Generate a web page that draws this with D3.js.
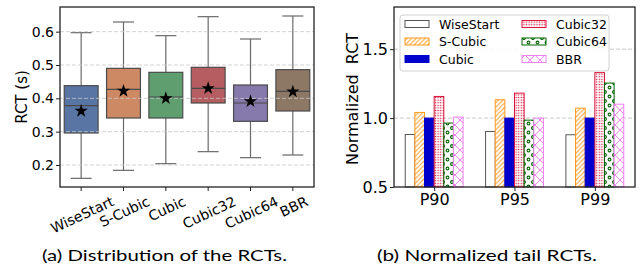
<!DOCTYPE html>
<html>
<head>
<meta charset="utf-8">
<script src="https://cdn.jsdelivr.net/npm/d3@7"></script>
<style>
  body { margin: 0; background: #fff; }
  svg text { font-family: "DejaVu Sans", sans-serif; fill: #000; }
  svg text.cap { font-family: "Lato", "Open Sans", sans-serif; }
</style>
</head>
<body>
<div id="chart"></div>
<script>
// ---- data ----
var methods = ["WiseStart", "S-Cubic", "Cubic", "Cubic32", "Cubic64", "BBR"];
// box plot stats of the RCT (s)
var whiskLo = [0.160, 0.184, 0.204, 0.240, 0.222, 0.230];
var q1      = [0.296, 0.341, 0.341, 0.386, 0.331, 0.362];
var median  = [0.378, 0.427, 0.404, 0.430, 0.386, 0.421];
var q3      = [0.438, 0.490, 0.478, 0.493, 0.440, 0.486];
var whiskHi = [0.597, 0.629, 0.588, 0.645, 0.578, 0.647];
var means   = [0.362, 0.422, 0.400, 0.430, 0.391, 0.420];
var boxTicks = [0.2, 0.3, 0.4, 0.5, 0.6];

// normalized tail RCT, one array per method (P90, P95, P99)
var percentiles = ["P90", "P95", "P99"];
var normWiseStart = [0.881, 0.903, 0.879];
var normSCubic    = [1.041, 1.133, 1.072];
var normCubic     = [1.000, 1.000, 1.000];
var normCubic32   = [1.157, 1.181, 1.330];
var normCubic64   = [0.964, 0.985, 1.254];
var normBBR       = [1.007, 1.000, 1.101];
var barTicks = [0.5, 1.0, 1.5];

var boxColors = ["#5875a4", "#cc8963", "#5f9e6e", "#b55d60", "#857aab", "#8d7866"];

var W = 641, H = 271;
var svg = d3.select("#chart").append("svg")
    .attr("width", W).attr("height", H);

var defs = svg.append("defs");

// hatch patterns for the bar chart
var pS = defs.append("pattern").attr("id", "hS")
    .attr("patternUnits", "userSpaceOnUse").attr("width", 4.5).attr("height", 4.5);
pS.append("rect").attr("width", 4.5).attr("height", 4.5).attr("fill", "#fff");
pS.append("path").attr("d", "M0,4.5 L4.5,0 M-1,1 L1,-1 M3.5,5.5 L5.5,3.5")
    .attr("stroke", "#ff9a1f").attr("stroke-width", 1);

var pD = defs.append("pattern").attr("id", "hD")
    .attr("patternUnits", "userSpaceOnUse").attr("width", 2.6).attr("height", 2.6);
pD.append("rect").attr("width", 2.6).attr("height", 2.6).attr("fill", "#fff");
pD.append("circle").attr("cx", 1.3).attr("cy", 1.3).attr("r", 0.75).attr("fill", "#dc143c");

var pO = defs.append("pattern").attr("id", "hO")
    .attr("patternUnits", "userSpaceOnUse").attr("width", 9).attr("height", 9);
pO.append("rect").attr("width", 9).attr("height", 9).attr("fill", "#fff");
pO.append("circle").attr("cx", 2).attr("cy", 2).attr("r", 1.4)
    .attr("fill", "none").attr("stroke", "#006400").attr("stroke-width", 1.1);
pO.append("circle").attr("cx", 6.5).attr("cy", 6.5).attr("r", 1.4)
    .attr("fill", "none").attr("stroke", "#006400").attr("stroke-width", 1.1);

var pX = defs.append("pattern").attr("id", "hX")
    .attr("patternUnits", "userSpaceOnUse").attr("width", 10).attr("height", 10);
pX.append("rect").attr("width", 10).attr("height", 10).attr("fill", "#fff");
pX.append("path").attr("d", "M0,0 L10,10 M10,0 L0,10")
    .attr("stroke", "#ee82ee").attr("stroke-width", 1);

var barFill = ["#fff", "url(#hS)", "#0000cc", "url(#hD)", "url(#hO)", "url(#hX)"];
var barEdge = ["#555", "#ff9a1f", "#0000cc", "#dc143c", "#006400", "#ee82ee"];
var barData = [normWiseStart, normSCubic, normCubic, normCubic32, normCubic64, normBBR];

// ================= (a) box plot =================
var x1 = d3.scaleBand().domain(methods).range([60, 314]).padding(0);
var y1 = d3.scaleLinear().domain([0.134, 0.674]).range([187, 7]);
var bw = x1.bandwidth() * 0.8;
var capW = 21;
var gA = svg.append("g");

// whiskers
gA.selectAll(".wh").data(methods).enter().append("line")
    .attr("x1", function (d) { return x1(d) + x1.bandwidth() / 2; })
    .attr("x2", function (d) { return x1(d) + x1.bandwidth() / 2; })
    .attr("y1", function (d, i) { return y1(whiskLo[i]); })
    .attr("y2", function (d, i) { return y1(whiskHi[i]); })
    .attr("stroke", "#6a6a6a").attr("stroke-width", 1.2);
// caps
[whiskLo, whiskHi].forEach(function (arr) {
    gA.selectAll(null).data(methods).enter().append("line")
        .attr("x1", function (d) { return x1(d) + x1.bandwidth() / 2 - capW / 2; })
        .attr("x2", function (d) { return x1(d) + x1.bandwidth() / 2 + capW / 2; })
        .attr("y1", function (d, i) { return y1(arr[i]); })
        .attr("y2", function (d, i) { return y1(arr[i]); })
        .attr("stroke", "#6a6a6a").attr("stroke-width", 1.2);
});
// boxes
gA.selectAll(".box").data(methods).enter().append("rect")
    .attr("x", function (d) { return x1(d) + (x1.bandwidth() - bw) / 2; })
    .attr("width", bw)
    .attr("y", function (d, i) { return y1(q3[i]); })
    .attr("height", function (d, i) { return y1(q1[i]) - y1(q3[i]); })
    .attr("fill", function (d, i) { return boxColors[i]; })
    .attr("stroke", "#4a4a4a").attr("stroke-width", 1.2);
// medians
gA.selectAll(".med").data(methods).enter().append("line")
    .attr("x1", function (d) { return x1(d) + (x1.bandwidth() - bw) / 2; })
    .attr("x2", function (d) { return x1(d) + (x1.bandwidth() + bw) / 2; })
    .attr("y1", function (d, i) { return y1(median[i]); })
    .attr("y2", function (d, i) { return y1(median[i]); })
    .attr("stroke", "#4a4a4a").attr("stroke-width", 1.2);
// grid over the boxes
gA.selectAll(".grid").data(boxTicks).enter().append("line")
    .attr("x1", 60).attr("x2", 314)
    .attr("y1", function (d) { return y1(d); })
    .attr("y2", function (d) { return y1(d); })
    .attr("stroke", "#c8c8c8").attr("stroke-opacity", 0.8)
    .attr("stroke-dasharray", "4,2").attr("stroke-width", 1);
// mean stars
gA.selectAll(".mean").data(methods).enter().append("path")
    .attr("d", d3.symbol().type(d3.symbolStar).size(55))
    .attr("transform", function (d, i) {
        return "translate(" + (x1(d) + x1.bandwidth() / 2) + "," + y1(means[i]) + ")";
    })
    .attr("fill", "#000");

// frame
gA.append("rect").attr("x", 60).attr("y", 7).attr("width", 254).attr("height", 180)
    .attr("fill", "none").attr("stroke", "#222").attr("stroke-width", 1.3);

// y axis
var ay1 = gA.append("g").attr("transform", "translate(60,0)")
    .call(d3.axisLeft(y1).tickValues(boxTicks).tickFormat(d3.format(".1f")).tickSize(4).tickPadding(2));
ay1.select(".domain").remove();
ay1.selectAll("text").style("font-size", "14px");
ay1.selectAll("line").attr("stroke", "#222");

// x axis with rotated labels
var ax1 = gA.append("g").attr("transform", "translate(0,187)")
    .call(d3.axisBottom(x1).tickSize(4).tickFormat(""));
ax1.select(".domain").remove();
ax1.selectAll("line").attr("stroke", "#222");
var ang = 25 * Math.PI / 180;
gA.selectAll(".xl").data(methods).enter().append("text")
    .text(function (d) { return d; })
    .style("font-size", "14px")
    .attr("text-anchor", "middle")
    .attr("dominant-baseline", "central")
    .attr("transform", function (d) {
        var w = this.getComputedTextLength();
        var hb = w * Math.sin(ang) + 16.3 * Math.cos(ang);
        return "translate(" + (x1(d) + x1.bandwidth() / 2 + 1) + "," + (193 + hb / 2) + ") rotate(-25)";
    });

gA.append("text").text("RCT (s)")
    .style("font-size", "15px")
    .attr("text-anchor", "middle")
    .attr("transform", "translate(27,97) rotate(-90)");

gA.append("text").attr("class", "cap").text("(a) Distribution of the RCTs.")
    .style("font-size", "15px")
    .attr("text-anchor", "middle")
    .attr("x", 164.5).attr("y", 261)
    .attr("textLength", 245).attr("lengthAdjust", "spacingAndGlyphs");

// ================= (b) bar chart =================
var x2 = d3.scaleLinear().domain([-0.5, 2.5]).range([394, 635]);
var y2 = d3.scaleLinear().domain([0.5, 1.806]).range([187, 7]);
var barW = 0.12;
var gB = svg.append("g");

gB.selectAll(".grid").data(barTicks.slice(1)).enter().append("line")
    .attr("x1", 394).attr("x2", 635)
    .attr("y1", function (d) { return y2(d); })
    .attr("y2", function (d) { return y2(d); })
    .attr("stroke", "#c8c8c8").attr("stroke-dasharray", "4,2").attr("stroke-width", 1);

barData.forEach(function (vals, m) {
    gB.selectAll(null).data(vals).enter().append("rect")
        .attr("x", function (d, i) { return x2(i + (m - 3) * barW); })
        .attr("width", x2(barW) - x2(0))
        .attr("y", function (d) { return y2(d); })
        .attr("height", function (d) { return y2(0.5) - y2(d); })
        .attr("fill", barFill[m])
        .attr("stroke", barEdge[m]).attr("stroke-width", 1);
});

gB.append("rect").attr("x", 394).attr("y", 7).attr("width", 241).attr("height", 180)
    .attr("fill", "none").attr("stroke", "#222").attr("stroke-width", 1.3);

var ay2 = gB.append("g").attr("transform", "translate(394,0)")
    .call(d3.axisLeft(y2).tickValues(barTicks).tickFormat(d3.format(".1f")).tickSize(4).tickPadding(2));
ay2.select(".domain").remove();
ay2.selectAll("text").style("font-size", "16px");
ay2.selectAll("line").attr("stroke", "#222");

var ax2 = gB.append("g").attr("transform", "translate(0,187)")
    .call(d3.axisBottom(x2).tickValues([0, 1, 2]).tickFormat(function (d) { return percentiles[d]; })
        .tickSize(4).tickPadding(3));
ax2.select(".domain").remove();
ax2.selectAll("text").style("font-size", "16px");
ax2.selectAll("line").attr("stroke", "#222");

gB.append("text").text("Normalized\u00a0\u00a0RCT")
    .style("font-size", "16px")
    .attr("text-anchor", "middle")
    .attr("transform", "translate(358,99) rotate(-90)");

// legend
var lg = gB.append("g");
lg.append("rect").attr("x", 400).attr("y", 15).attr("width", 209).attr("height", 56)
    .attr("rx", 3).attr("fill", "#fff").attr("fill-opacity", 0.85)
    .attr("stroke", "#d0d0d0");
methods.forEach(function (name, m) {
    var col = Math.floor(m / 3), row = m % 3;
    var lx = 405 + col * 117, ly = 24 + row * 17.5;
    lg.append("rect").attr("x", lx).attr("y", ly - 3.5).attr("width", 24).attr("height", 7)
        .attr("fill", barFill[m]).attr("stroke", barEdge[m]).attr("stroke-width", 1);
    lg.append("text").text(name).style("font-size", "12.5px")
        .attr("x", lx + 34).attr("y", ly).attr("dominant-baseline", "central");
});

gB.append("text").attr("class", "cap").text("(b) Normalized tail RCTs.")
    .style("font-size", "15px")
    .attr("text-anchor", "middle")
    .attr("x", 487).attr("y", 261)
    .attr("textLength", 220).attr("lengthAdjust", "spacingAndGlyphs");
</script>
</body>
</html>
